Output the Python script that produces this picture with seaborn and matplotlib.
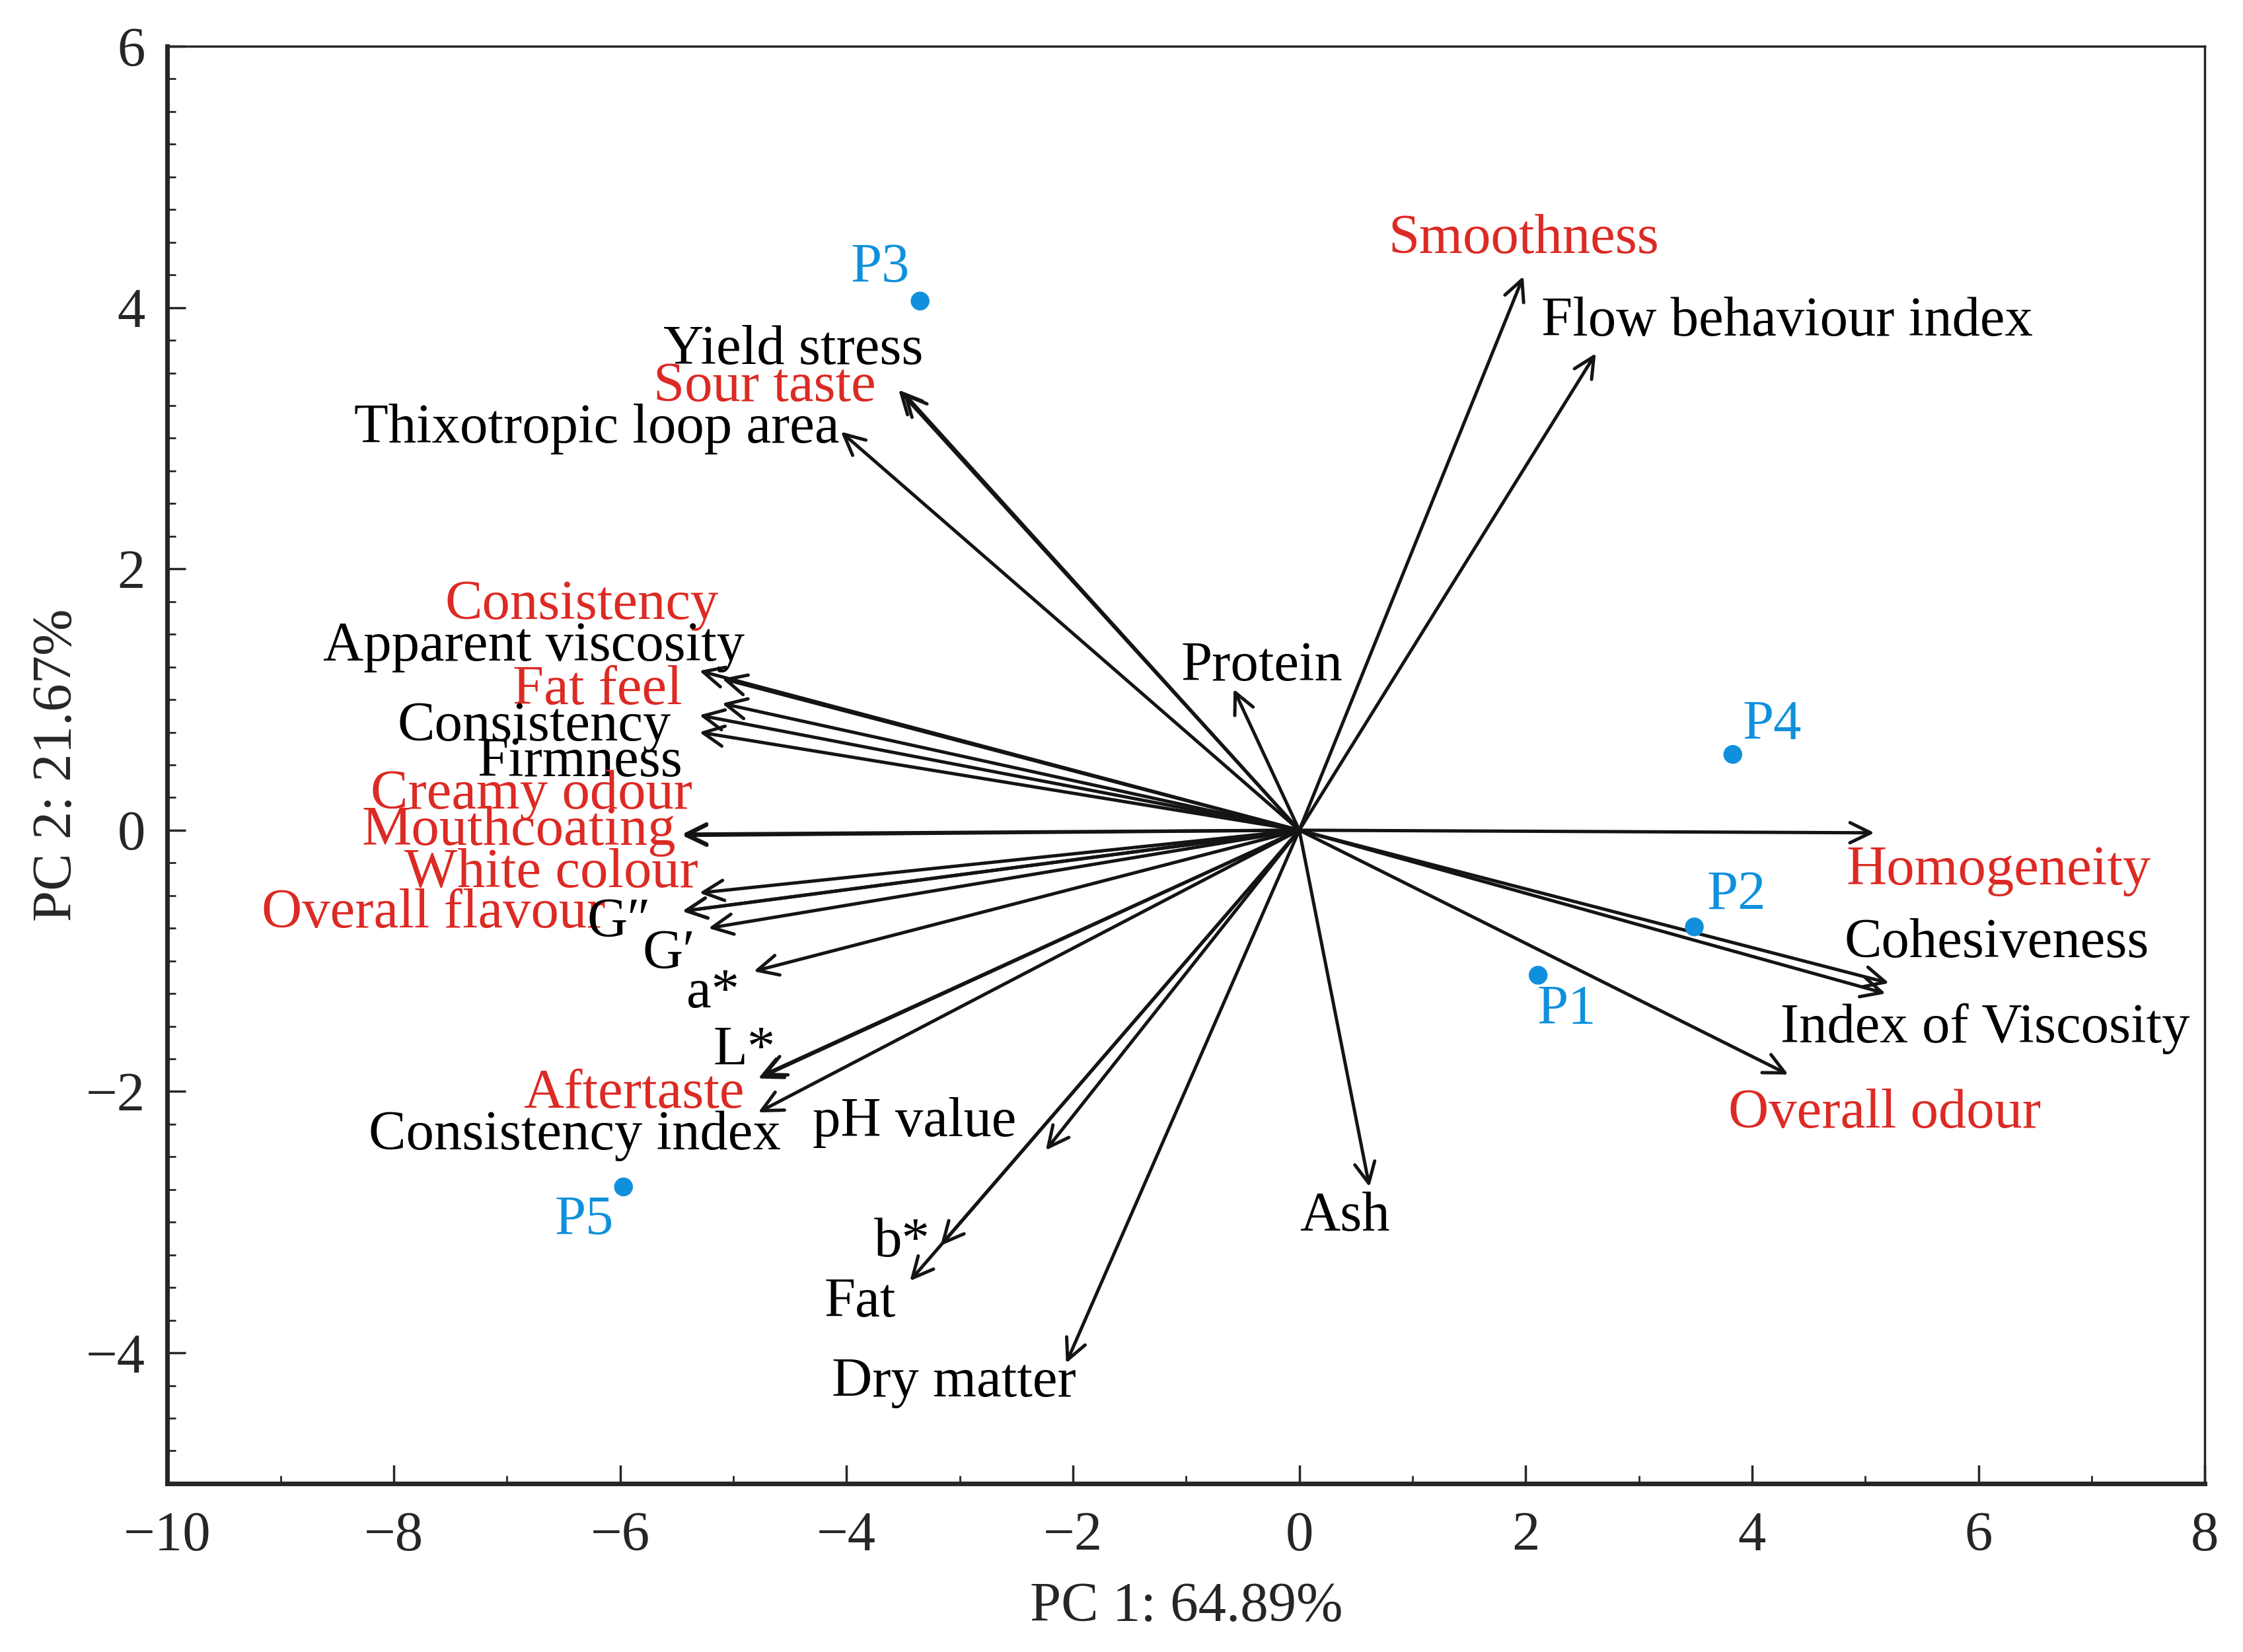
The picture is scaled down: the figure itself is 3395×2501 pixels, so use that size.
import matplotlib
matplotlib.use("Agg")
import matplotlib.pyplot as plt
import seaborn as sns
import pandas as pd
from matplotlib.ticker import MultipleLocator

# loadings (arrow tips)
var_names = ["Smoothness", "Flow behaviour index", "Yield stress", "Sour taste",
             "Thixotropic loop area", "Protein", "Consistency", "Apparent viscosity",
             "Fat feel", "Consistency", "Firmness", "Creamy odour", "Mouthcoating",
             "White colour", "Overall flavour", "G\u2033", "G\u2032", "a*", "L*",
             "Aftertaste", "Consistency index", "pH value", "b*", "Fat", "Dry matter",
             "Ash", "Homogeneity", "Cohesiveness", "Index of Viscosity", "Overall odour"]
var_group = ["sensory", "instrumental", "instrumental", "sensory",
             "instrumental", "instrumental", "sensory", "instrumental",
             "sensory", "instrumental", "instrumental", "sensory", "sensory",
             "sensory", "sensory", "instrumental", "instrumental", "instrumental", "instrumental",
             "sensory", "instrumental", "instrumental", "instrumental", "instrumental", "instrumental",
             "instrumental", "sensory", "instrumental", "instrumental", "sensory"]
var_pc1 = [1.98, 2.62, -3.54, -3.50, -4.05, -0.58, -5.30, -5.10, -5.10, -5.30, -5.30,
           -5.45, -5.45, -5.30, -5.45, -5.45, -5.22, -4.82, -4.75, -4.78, -4.78, -2.24,
           -3.17, -3.44, -2.06, 0.62, 5.08, 5.21, 5.18, 4.32]
var_pc2 = [4.24, 3.65, 3.37, 3.35, 3.05, 1.08, 1.22, 1.16, 0.97, 0.88, 0.75,
           -0.03, -0.04, -0.48, -0.62, -0.62, -0.75, -1.08, -1.88, -1.90, -2.16, -2.45,
           -3.18, -3.45, -4.08, -2.73, -0.02, -1.17, -1.25, -1.87]

# label anchor positions
label_x = [1.98, 2.14, -3.32, -3.74, -4.06, -0.33, -5.13, -4.90, -5.45, -5.55, -5.45,
           -5.36, -5.51, -5.31, -6.13, -5.73, -5.57, -5.18, -4.90, -4.90, -4.58, -3.40,
           -3.51, -3.88, -3.05, 0.40, 6.18, 6.16, 6.06, 5.17]
label_y = [4.52, 3.89, 3.67, 3.39, 3.07, 1.25, 1.72, 1.40, 1.07, 0.79, 0.52,
           0.27, -0.01, -0.33, -0.64, -0.71, -0.95, -1.25, -1.69, -2.02, -2.34, -2.24,
           -3.16, -3.62, -4.23, -2.96, -0.31, -0.87, -1.52, -2.17]
label_ha = ["center", "left", "right", "right", "right", "center", "right", "right",
            "right", "right", "right", "right", "right", "right", "right", "right",
            "center", "center", "center", "right", "right", "center", "center", "center",
            "center", "center", "center", "center", "center", "center"]

# sample scores
samples = ["P1", "P2", "P3", "P4", "P5"]
score_pc1 = [2.11, 3.49, -3.35, 3.83, -5.97]
score_pc2 = [-1.11, -0.74, 4.05, 0.58, -2.73]
sample_lx = [2.36, 3.86, -3.70, 4.18, -6.32]
sample_ly = [-1.38, -0.50, 4.30, 0.80, -2.99]

RED = "#dc2a24"
BLUE = "#1090dc"
colours = {"sensory": RED, "instrumental": "black"}

sns.set_style("ticks")
plt.rcParams["font.family"] = ["Liberation Serif", "DejaVu Serif"]
FS = 61

fig = plt.figure(figsize=(33.95, 25.01), dpi=100)
ax = fig.add_axes([0.0746, 0.102, 0.9084, 0.870])

for name, grp, x, y, lx, ly, ha in zip(var_names, var_group, var_pc1, var_pc2,
                                        label_x, label_y, label_ha):
    ax.annotate("", xy=(x, y), xytext=(0, 0),
                arrowprops=dict(arrowstyle="->,head_length=0.45,head_width=0.22",
                                lw=3.6, color="#141414", mutation_scale=50,
                                shrinkA=0, shrinkB=0))
    ax.text(lx, ly, name, color=colours[grp], fontsize=FS, ha=ha, va="center")

df = pd.DataFrame({"PC1": score_pc1, "PC2": score_pc2, "sample": samples})
sns.scatterplot(data=df, x="PC1", y="PC2", color=BLUE, s=420, edgecolor="none",
                ax=ax, zorder=5)
for s, lx, ly in zip(samples, sample_lx, sample_ly):
    ax.text(lx, ly, s, color=BLUE, fontsize=FS, ha="center", va="center")

ax.set_xlim(-10, 8)
ax.set_ylim(-5, 6)
ax.xaxis.set_major_locator(MultipleLocator(2))
ax.xaxis.set_minor_locator(MultipleLocator(1))
ax.yaxis.set_major_locator(MultipleLocator(2))
ax.yaxis.set_minor_locator(MultipleLocator(0.25))
ax.tick_params(which="major", direction="in", length=20, width=2.5,
               labelsize=FS, top=False, right=False)
ax.tick_params(axis="x", which="major", pad=30)
ax.tick_params(axis="y", which="major", pad=24)
ax.tick_params(which="minor", direction="in", length=9, width=2,
               top=False, right=False)
for side, sp in ax.spines.items():
    sp.set_visible(True)
    sp.set_linewidth(5 if side in ("left", "bottom") else 2.5)

ax.set_xlabel("PC 1: 64.89%", fontsize=FS, labelpad=22)
ax.set_ylabel("PC 2: 21.67%", fontsize=FS, va="center")
ax.yaxis.set_label_coords(-0.054, 0.5)

fig.savefig("out.png", dpi=100)
